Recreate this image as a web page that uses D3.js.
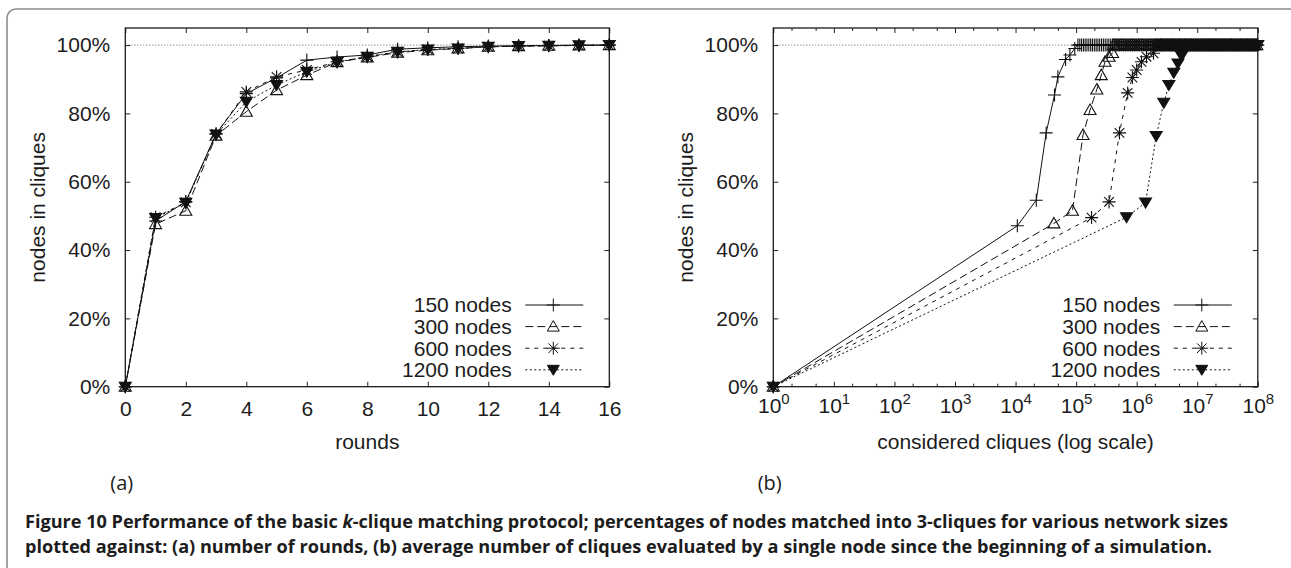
<!DOCTYPE html>
<html>
<head>
<meta charset="utf-8">
<script src="https://cdn.jsdelivr.net/npm/d3@7"></script>
<style>
  body { margin: 0; background: #fff; }
  svg text { font-family: "Liberation Sans", Arial, sans-serif; fill: #1c1c1c; }
  .cap text, text.cap { font-family: "Open Sans", "Noto Sans", sans-serif; }
</style>
</head>
<body>
<svg id="fig" width="1291" height="568"></svg>
<script>
// Series labels and y axis ticks.
const seriesNames = ["150 nodes", "300 nodes", "600 nodes", "1200 nodes"];
const pctTicks = [0, 20, 40, 60, 80, 100];

// (a) percentage of nodes in cliques per round.
const rounds = [0, 1, 2, 3, 4, 5, 6, 7, 8, 9, 10, 11, 12, 13, 14, 15, 16];
const roundTicks = [0, 2, 4, 6, 8, 10, 12, 14, 16];
const rounds150 = [0, 48.5, 54.2, 74, 85.8, 90.4, 95.6, 96.5, 97.1, 98.8, 99.2, 99.5, 99.7, 99.8, 99.9, 100, 100];
const rounds300 = [0, 47.6, 51.5, 73.5, 80.5, 86.8, 91.2, 95, 96.4, 97.8, 98.5, 99, 99.5, 99.7, 99.8, 99.9, 100];
const rounds600 = [0, 49.6, 54, 74, 86.3, 90.7, 92.7, 95.1, 96.6, 98, 98.7, 99, 99.5, 99.7, 99.8, 99.9, 100];
const rounds1200 = [0, 49.4, 53.8, 73.8, 83.4, 88.3, 92.2, 95, 96.6, 98, 98.7, 99, 99.5, 99.7, 99.8, 99.9, 100];

// (b) percentage against cliques considered (rising part of each run).
const cliques150 = [1, 1.07e4, 2.2e4, 3.2e4, 4.4e4, 5.0e4, 6.7e4, 7.9e4, 9.5e4];
const pct150 = [0, 47.1, 54.6, 74.3, 85.4, 90.7, 95.8, 97.1, 99.0];
const cliques300 = [1, 4.3e4, 8.7e4, 1.3e5, 1.7e5, 2.2e5, 2.6e5, 3.0e5, 3.5e5, 4.0e5];
const pct300 = [0, 47.8, 51.5, 73.7, 81.0, 87.0, 91.2, 95.1, 96.6, 97.7];
const cliques600 = [1, 1.8e5, 3.5e5, 5.2e5, 7.1e5, 8.5e5, 1.0e6, 1.2e6, 1.45e6, 1.9e6];
const pct600 = [0, 49.5, 54.1, 74.3, 86.0, 90.5, 92.7, 95.1, 96.6, 97.6];
const cliques1200 = [1, 6.8e5, 1.4e6, 2.1e6, 2.8e6, 3.4e6, 4.1e6, 4.8e6, 5.5e6];
const pct1200 = [0, 49.6, 53.9, 73.4, 83.1, 88.3, 91.9, 94.6, 96.8];
// Later rounds, once every node is in a clique (100%): a dense band of marks.
const plateauCliquesA = [
  1.07e5, 1.15e5, 1.23e5, 1.32e5, 1.41e5, 1.51e5, 1.62e5, 1.74e5, 1.86e5, 2e5, 2.14e5, 2.29e5, 2.45e5, 2.63e5, 2.82e5, 3.02e5, 3.24e5,
  3.47e5, 3.72e5, 3.98e5, 4.27e5, 4.57e5, 4.9e5, 5.25e5, 5.62e5, 6.03e5, 6.46e5, 6.92e5, 7.41e5, 7.94e5, 8.51e5, 9.12e5, 9.77e5,
  1.05e6, 1.12e6, 1.2e6, 1.29e6, 1.38e6, 1.48e6, 1.58e6, 1.7e6, 1.82e6, 1.95e6, 2.09e6, 2.24e6, 2.4e6, 2.57e6, 2.75e6, 2.95e6, 3.16e6,
  3.39e6, 3.63e6, 3.89e6, 4.17e6, 4.47e6, 4.79e6, 5.13e6, 5.5e6, 5.89e6, 6.31e6, 6.76e6, 7.24e6, 7.76e6, 8.32e6, 8.91e6, 9.55e6,
  1.02e7, 1.1e7, 1.17e7, 1.26e7, 1.35e7, 1.45e7, 1.55e7, 1.66e7, 1.78e7, 1.91e7, 2.04e7, 2.19e7, 2.34e7, 2.51e7, 2.69e7, 2.88e7, 3.09e7,
  3.31e7, 3.55e7, 3.8e7, 4.07e7, 4.37e7, 4.68e7, 5.01e7, 5.37e7, 5.75e7, 6.17e7, 6.61e7, 7.08e7, 7.59e7, 8.13e7, 8.71e7, 9.33e7, 1e8
];
const plateauCliquesB = [
  1.11e5, 1.19e5, 1.27e5, 1.36e5, 1.46e5, 1.57e5, 1.68e5, 1.8e5, 1.93e5, 2.07e5, 2.21e5, 2.37e5, 2.54e5, 2.72e5, 2.92e5, 3.13e5, 3.35e5,
  3.59e5, 3.85e5, 4.12e5, 4.42e5, 4.73e5, 5.07e5, 5.43e5, 5.82e5, 6.24e5, 6.69e5, 7.16e5, 7.67e5, 8.22e5, 8.81e5, 9.44e5,
  1.01e6, 1.08e6, 1.16e6, 1.24e6, 1.33e6, 1.43e6, 1.53e6, 1.64e6, 1.76e6, 1.88e6, 2.02e6, 2.16e6, 2.32e6, 2.48e6, 2.66e6, 2.85e6, 3.05e6,
  3.27e6, 3.51e6, 3.76e6, 4.03e6, 4.32e6, 4.63e6, 4.96e6, 5.31e6, 5.69e6, 6.1e6, 6.53e6, 7e6, 7.5e6, 8.04e6, 8.61e6, 9.23e6, 9.89e6,
  1.06e7, 1.13e7, 1.22e7, 1.3e7, 1.4e7, 1.5e7, 1.6e7, 1.72e7, 1.84e7, 1.97e7, 2.11e7, 2.26e7, 2.43e7, 2.6e7, 2.78e7, 2.98e7, 3.2e7,
  3.43e7, 3.67e7, 3.94e7, 4.22e7, 4.52e7, 4.84e7, 5.19e7, 5.56e7, 5.96e7, 6.38e7, 6.84e7, 7.33e7, 7.85e7, 8.41e7, 9.02e7, 9.66e7
];
const plateauPct = 100;
const decadeTicks = [1e0, 1e1, 1e2, 1e3, 1e4, 1e5, 1e6, 1e7, 1e8];
const minorLogTicks = [2, 5, 20, 50, 200, 500, 2e3, 5e3, 2e4, 5e4, 2e5, 5e5, 2e6, 5e6, 2e7, 5e7];

// Line dash and marker per series.
const dashes = ["none", "8,4", "4,5", "2,2.5"];
const markers = [
  { d: "M-6.5,0H6.5M0,-6.5V6.5", fill: "none" },
  { d: "M0,-6L6,4.5L-6,4.5Z", fill: "none" },
  { d: "M-6.5,0H6.5M0,-6.5V6.5M-4.8,-4.8L4.8,4.8M-4.8,4.8L4.8,-4.8", fill: "none" },
  { d: "M0,5.5L-6,-4.5H6Z", fill: "#111" }
];

const svg = d3.select("#fig");

// Outer figure frame.
svg.append("rect")
  .attr("x", 7).attr("y", 9).attr("width", 1400).attr("height", 700)
  .attr("rx", 9).attr("fill", "none").attr("stroke", "#8c8c8c").attr("stroke-width", 1.6);

const plotTop = 28, plotBottom = 386.7;
const fontSize = 21;

function drawPanel(opts) {
  const g = svg.append("g");
  const x = opts.x, y = d3.scaleLinear().domain([0, 105]).range([plotBottom, plotTop]);
  const [x0, x1] = x.range();

  // 100% reference line.
  g.append("line")
    .attr("x1", x0).attr("x2", x1).attr("y1", y(100)).attr("y2", y(100))
    .attr("stroke", "#333").attr("stroke-width", 0.8).attr("stroke-dasharray", "1,2");

  // Axes with inward ticks.
  g.append("g").attr("transform", `translate(${x0},0)`)
    .call(d3.axisLeft(y).tickValues(pctTicks).tickSizeInner(-5).tickSizeOuter(0).tickPadding(15).tickFormat(d => d + "%"));
  g.append("g").attr("transform", `translate(${x1},0)`)
    .call(d3.axisRight(y).tickValues(pctTicks).tickSizeInner(-5).tickSizeOuter(0).tickFormat(""));
  const bottomAxis = g.append("g").attr("transform", `translate(0,${plotBottom})`)
    .call(d3.axisBottom(x).tickValues(opts.ticks).tickSizeInner(-5).tickSizeOuter(0).tickPadding(14).tickFormat(opts.fmt || d3.format("d")));
  g.append("g").attr("transform", `translate(0,${plotTop})`)
    .call(d3.axisTop(x).tickValues(opts.ticks).tickSizeInner(-5).tickSizeOuter(0).tickFormat(""));
  if (opts.minor) {
    g.append("g").attr("transform", `translate(0,${plotBottom})`)
      .call(d3.axisBottom(x).tickValues(opts.minor).tickSizeInner(-3).tickSizeOuter(0).tickFormat(""));
    g.append("g").attr("transform", `translate(0,${plotTop})`)
      .call(d3.axisTop(x).tickValues(opts.minor).tickSizeInner(-3).tickSizeOuter(0).tickFormat(""));
  }
  g.selectAll(".domain").remove();
  g.selectAll(".tick line").attr("stroke", "#222").attr("stroke-width", 1);
  g.selectAll(".tick text").attr("font-size", fontSize).attr("fill", "#1c1c1c")
    .attr("font-family", "Liberation Sans, Arial, sans-serif");
  if (opts.sup) opts.sup(bottomAxis);

  // Frame.
  g.append("rect")
    .attr("x", x0).attr("y", plotTop).attr("width", x1 - x0).attr("height", plotBottom - plotTop)
    .attr("fill", "none").attr("stroke", "#1a1a1a").attr("stroke-width", 1.3);

  // Series.
  const line = d3.line().x(d => x(d[0])).y(d => y(d[1]));
  opts.series.forEach((pts, i) => {
    g.append("path").attr("d", line(pts)).attr("fill", "none")
      .attr("stroke", "#111").attr("stroke-width", 1).attr("stroke-dasharray", dashes[i]);
  });
  opts.series.forEach((pts, i) => {
    g.selectAll(null).data(pts).join("path")
      .attr("transform", d => `translate(${x(d[0])},${y(d[1])})`)
      .attr("d", markers[i].d).attr("fill", markers[i].fill)
      .attr("stroke", "#111").attr("stroke-width", 1.1);
  });

  // Legend.
  seriesNames.forEach((name, i) => {
    const ly = 305 + i * 21.6;
    g.append("text").attr("x", x1 - 97.5).attr("y", ly).attr("dy", "0.35em")
      .attr("text-anchor", "end").attr("font-size", fontSize).text(name);
    g.append("line").attr("x1", x1 - 84).attr("x2", x1 - 26).attr("y1", ly).attr("y2", ly)
      .attr("stroke", "#111").attr("stroke-width", 1).attr("stroke-dasharray", dashes[i]);
    g.append("path").attr("transform", `translate(${x1 - 56},${ly})`)
      .attr("d", markers[i].d).attr("fill", markers[i].fill).attr("stroke", "#111").attr("stroke-width", 1);
  });

  // Axis titles and panel tag.
  g.append("text").attr("transform", `translate(${x0 - 80},${(plotTop + plotBottom) / 2}) rotate(-90)`)
    .attr("text-anchor", "middle").attr("font-size", fontSize).text("nodes in cliques");
  g.append("text").attr("x", (x0 + x1) / 2).attr("y", 441.7).attr("dy", "0.35em")
    .attr("text-anchor", "middle").attr("font-size", fontSize).text(opts.xlabel);
  g.append("text").attr("class", "cap").attr("x", x0 - 3.6).attr("y", 483).attr("dy", "0.35em")
    .attr("text-anchor", "middle").attr("font-size", 20).attr("fill", "#222").text(opts.tag);
}

const zip = (xs, ys) => xs.map((v, i) => [v, ys[i]]);

// Panel (a)
const xRounds = d3.scaleLinear().domain([0, 16]).range([125.3, 609.3]);
drawPanel({
  x: xRounds, ticks: roundTicks, xlabel: "rounds", tag: "(a)",
  series: [rounds150, rounds300, rounds600, rounds1200].map(s => zip(rounds, s))
});

// Panel (b)
const xCliques = d3.scaleLog().domain([1, 1e8]).range([773.3, 1257.8]);
const withPlateau = (xs, ys, plateau) => {
  const last = xs[xs.length - 1];
  return zip(xs, ys).concat(plateau.filter(c => c > last).map(c => [c, plateauPct]));
};
drawPanel({
  x: xCliques, ticks: decadeTicks, minor: minorLogTicks, xlabel: "considered cliques (log scale)", tag: "(b)",
  fmt: () => "",
  sup: axis => {
    axis.selectAll(".tick text").each(function (d) {
      const t = d3.select(this).attr("dy", null).attr("y", 26);
      t.append("tspan").text("10");
      t.append("tspan").attr("dy", -9).attr("font-size", 15).text(Math.round(Math.log10(d)));
    });
  },
  series: [
    withPlateau(cliques150, pct150, plateauCliquesA),
    withPlateau(cliques300, pct300, plateauCliquesB),
    withPlateau(cliques600, pct600, plateauCliquesB),
    withPlateau(cliques1200, pct1200, plateauCliquesA)
  ]
});

// Caption.
const cap = svg.append("g").attr("class", "cap");
const line1 = cap.append("text").attr("x", 25).attr("y", 528).attr("font-size", 17.5)
  .attr("textLength", 1203).attr("lengthAdjust", "spacingAndGlyphs").attr("font-weight", 700);
line1.append("tspan").text("Figure 10 ");
line1.append("tspan").text("Performance of the basic ");
line1.append("tspan").attr("font-style", "italic").text("k");
line1.append("tspan").text("-clique matching protocol; percentages of nodes matched into 3-cliques for various network sizes");
cap.append("text").attr("x", 25).attr("y", 553).attr("font-size", 17.5)
  .attr("textLength", 1187).attr("lengthAdjust", "spacingAndGlyphs").attr("font-weight", 700)
  .text("plotted against: (a) number of rounds, (b) average number of cliques evaluated by a single node since the beginning of a simulation.");
</script>
</body>
</html>
